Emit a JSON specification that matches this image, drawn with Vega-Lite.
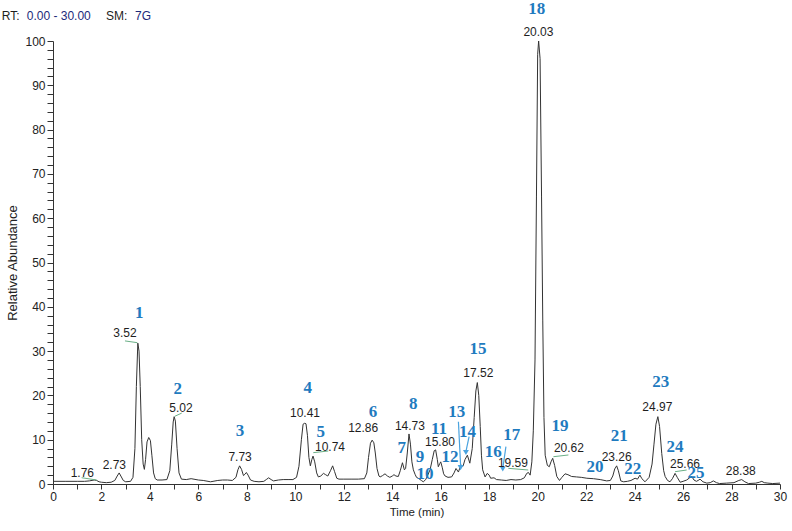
{
  "$schema": "https://vega.github.io/schema/vega-lite/v6.json",
  "width": 727,
  "height": 443,
  "autosize": {"type": "none"},
  "padding": {"left": 53, "top": 41, "right": 12, "bottom": 47},
  "background": "white",
  "config": {"view": {"stroke": null}, "font": "Liberation Sans"},
  "datasets": {
    "trace": [
      {"t":0,"y":0.6},{"t":0.5,"y":0.6},{"t":1.0,"y":0.6},{"t":1.3,"y":0.6},{"t":1.5,"y":0.7},{"t":1.7,"y":0.9},{"t":1.8,"y":0.8},{"t":1.9,"y":0.5},{"t":2.0,"y":0.4},{"t":2.2,"y":0.3},{"t":2.4,"y":0.4},{"t":2.55,"y":0.8},{"t":2.65,"y":1.8},{"t":2.73,"y":2.5},{"t":2.8,"y":1.8},{"t":2.9,"y":0.8},{"t":3.0,"y":0.5},{"t":3.2,"y":0.6},{"t":3.3,"y":1.5},{"t":3.38,"y":8},{"t":3.44,"y":22},{"t":3.5,"y":31.8},{"t":3.55,"y":30},{"t":3.6,"y":22},{"t":3.66,"y":10},{"t":3.72,"y":4.5},{"t":3.77,"y":3.3},{"t":3.82,"y":5.5},{"t":3.88,"y":9.5},{"t":3.95,"y":10.5},{"t":4.02,"y":9.8},{"t":4.08,"y":6.5},{"t":4.15,"y":2.5},{"t":4.22,"y":1.2},{"t":4.3,"y":0.9},{"t":4.5,"y":0.9},{"t":4.7,"y":1.0},{"t":4.82,"y":3},{"t":4.9,"y":9},{"t":4.96,"y":14},{"t":5.0,"y":15.2},{"t":5.05,"y":14.2},{"t":5.12,"y":8},{"t":5.2,"y":2.5},{"t":5.3,"y":1.1},{"t":5.5,"y":1.0},{"t":5.7,"y":1.2},{"t":6.0,"y":0.9},{"t":6.2,"y":0.8},{"t":6.5,"y":0.5},{"t":6.8,"y":0.8},{"t":7.0,"y":0.9},{"t":7.2,"y":0.9},{"t":7.4,"y":0.8},{"t":7.55,"y":1.5},{"t":7.63,"y":3.2},{"t":7.7,"y":4.1},{"t":7.78,"y":3.3},{"t":7.86,"y":1.9},{"t":7.92,"y":2.2},{"t":7.98,"y":2.6},{"t":8.05,"y":2.0},{"t":8.15,"y":0.9},{"t":8.3,"y":0.6},{"t":8.5,"y":0.5},{"t":8.7,"y":0.6},{"t":8.8,"y":1.0},{"t":8.9,"y":1.4},{"t":9.0,"y":1.0},{"t":9.1,"y":0.7},{"t":9.3,"y":0.9},{"t":9.5,"y":1.0},{"t":9.7,"y":1.0},{"t":9.9,"y":1.0},{"t":10.05,"y":1.5},{"t":10.15,"y":4},{"t":10.25,"y":10},{"t":10.32,"y":13.5},{"t":10.38,"y":13.7},{"t":10.44,"y":13.6},{"t":10.5,"y":11},{"t":10.56,"y":6},{"t":10.62,"y":4.1},{"t":10.68,"y":5.5},{"t":10.73,"y":6.3},{"t":10.8,"y":5.0},{"t":10.88,"y":2.5},{"t":10.95,"y":1.6},{"t":11.05,"y":1.8},{"t":11.16,"y":2.4},{"t":11.25,"y":2.1},{"t":11.34,"y":1.8},{"t":11.45,"y":3.0},{"t":11.54,"y":4.1},{"t":11.62,"y":2.8},{"t":11.71,"y":1.3},{"t":11.8,"y":1.1},{"t":12.0,"y":1.1},{"t":12.3,"y":1.1},{"t":12.6,"y":1.1},{"t":12.85,"y":1.2},{"t":12.95,"y":2.5},{"t":13.02,"y":6},{"t":13.1,"y":9.2},{"t":13.17,"y":9.9},{"t":13.24,"y":9.3},{"t":13.3,"y":7},{"t":13.37,"y":3.5},{"t":13.45,"y":1.8},{"t":13.5,"y":1.6},{"t":13.6,"y":1.9},{"t":13.7,"y":2.3},{"t":13.8,"y":1.8},{"t":13.9,"y":1.5},{"t":14.0,"y":1.8},{"t":14.07,"y":2.1},{"t":14.15,"y":1.8},{"t":14.25,"y":1.7},{"t":14.33,"y":3},{"t":14.42,"y":4.8},{"t":14.5,"y":3.2},{"t":14.55,"y":3.5},{"t":14.62,"y":7},{"t":14.69,"y":11.3},{"t":14.75,"y":9},{"t":14.81,"y":5},{"t":14.87,"y":3.2},{"t":14.94,"y":2.2},{"t":15.0,"y":1.5},{"t":15.1,"y":1.2},{"t":15.2,"y":0.8},{"t":15.28,"y":0.5},{"t":15.38,"y":1.0},{"t":15.48,"y":2.2},{"t":15.56,"y":3.2},{"t":15.65,"y":5.5},{"t":15.73,"y":7.5},{"t":15.79,"y":7.7},{"t":15.86,"y":5.5},{"t":15.9,"y":3.9},{"t":15.96,"y":4.6},{"t":16.0,"y":5.0},{"t":16.06,"y":3.8},{"t":16.12,"y":2.3},{"t":16.18,"y":1.8},{"t":16.3,"y":1.5},{"t":16.45,"y":1.6},{"t":16.55,"y":2.5},{"t":16.63,"y":3.5},{"t":16.73,"y":2.7},{"t":16.83,"y":4.3},{"t":16.92,"y":4.0},{"t":17.0,"y":5.5},{"t":17.1,"y":6.5},{"t":17.2,"y":4.7},{"t":17.3,"y":8},{"t":17.38,"y":15},{"t":17.45,"y":21},{"t":17.51,"y":22.9},{"t":17.57,"y":20},{"t":17.63,"y":13},{"t":17.68,"y":6.5},{"t":17.73,"y":3.2},{"t":17.83,"y":1.6},{"t":17.92,"y":2.4},{"t":18.0,"y":2.0},{"t":18.06,"y":1.3},{"t":18.2,"y":1.4},{"t":18.3,"y":1.0},{"t":18.5,"y":0.9},{"t":18.7,"y":0.8},{"t":18.9,"y":1.0},{"t":19.1,"y":0.9},{"t":19.3,"y":1.0},{"t":19.45,"y":1.4},{"t":19.55,"y":2.4},{"t":19.62,"y":2.6},{"t":19.69,"y":2.0},{"t":19.76,"y":5},{"t":19.82,"y":12},{"t":19.89,"y":28},{"t":19.95,"y":65},{"t":20.0,"y":97},{"t":20.04,"y":100},{"t":20.1,"y":96},{"t":20.16,"y":65},{"t":20.21,"y":37},{"t":20.26,"y":15},{"t":20.31,"y":6.5},{"t":20.4,"y":4.2},{"t":20.48,"y":3.9},{"t":20.55,"y":5.0},{"t":20.62,"y":5.8},{"t":20.7,"y":4.2},{"t":20.79,"y":1.7},{"t":20.9,"y":0.8},{"t":21.0,"y":1.5},{"t":21.13,"y":2.3},{"t":21.25,"y":2.1},{"t":21.4,"y":1.7},{"t":21.6,"y":1.6},{"t":21.8,"y":1.5},{"t":22.03,"y":1.3},{"t":22.3,"y":1.2},{"t":22.58,"y":1.0},{"t":22.85,"y":0.7},{"t":23.0,"y":0.8},{"t":23.1,"y":1.8},{"t":23.18,"y":3.4},{"t":23.26,"y":4.1},{"t":23.33,"y":3.0},{"t":23.43,"y":0.7},{"t":23.55,"y":0.5},{"t":23.7,"y":0.6},{"t":23.85,"y":0.8},{"t":24.02,"y":1.3},{"t":24.12,"y":1.1},{"t":24.22,"y":2.0},{"t":24.3,"y":1.2},{"t":24.43,"y":0.5},{"t":24.6,"y":1.5},{"t":24.72,"y":4.5},{"t":24.8,"y":9},{"t":24.88,"y":13.5},{"t":24.96,"y":15.2},{"t":25.03,"y":13},{"t":25.12,"y":6.9},{"t":25.2,"y":3.0},{"t":25.26,"y":1.7},{"t":25.36,"y":0.8},{"t":25.46,"y":0.5},{"t":25.56,"y":1.2},{"t":25.67,"y":2.4},{"t":25.76,"y":1.5},{"t":25.88,"y":0.4},{"t":26.0,"y":0.6},{"t":26.15,"y":0.9},{"t":26.27,"y":1.4},{"t":26.36,"y":1.7},{"t":26.45,"y":0.9},{"t":26.55,"y":0.6},{"t":26.62,"y":0.8},{"t":26.7,"y":1.1},{"t":26.82,"y":0.5},{"t":26.98,"y":0.2},{"t":27.12,"y":0.3},{"t":27.25,"y":0.7},{"t":27.38,"y":0.3},{"t":27.5,"y":0.1},{"t":27.8,"y":0.2},{"t":28.1,"y":0.3},{"t":28.3,"y":0.8},{"t":28.42,"y":1.0},{"t":28.55,"y":0.5},{"t":28.7,"y":0.1},{"t":29.0,"y":0.2},{"t":29.15,"y":0.4},{"t":29.25,"y":0.6},{"t":29.35,"y":0.3},{"t":29.5,"y":0.2},{"t":29.7,"y":0.1},{"t":30.0,"y":0.2}
    ],
    "rt": [
      {"t":1.21,"y":2.55,"label":"1.76"},{"t":2.53,"y":4.29,"label":"2.73"},{"t":2.97,"y":34.0,"label":"3.52"},{"t":5.28,"y":17.1,"label":"5.02"},{"t":7.72,"y":6.16,"label":"7.73"},{"t":10.4,"y":15.96,"label":"10.41"},{"t":11.43,"y":8.42,"label":"10.74"},{"t":12.8,"y":12.57,"label":"12.86"},{"t":14.73,"y":13.09,"label":"14.73"},{"t":15.97,"y":9.41,"label":"15.80"},{"t":17.55,"y":24.99,"label":"17.52"},{"t":18.98,"y":4.74,"label":"19.59"},{"t":20.03,"y":102.1,"label":"20.03"},{"t":21.29,"y":8.06,"label":"20.62"},{"t":23.26,"y":6.16,"label":"23.26"},{"t":24.94,"y":17.31,"label":"24.97"},{"t":26.08,"y":4.45,"label":"25.66"},{"t":28.38,"y":3.0,"label":"28.38"}
    ],
    "peaks": [
      {"t":3.56,"y":38.5,"label":"1"},{"t":5.15,"y":21.4,"label":"2"},{"t":7.72,"y":12.0,"label":"3"},{"t":10.51,"y":21.6,"label":"4"},{"t":11.05,"y":11.8,"label":"5"},{"t":13.21,"y":16.3,"label":"6"},{"t":14.39,"y":8.06,"label":"7"},{"t":14.87,"y":18.06,"label":"8"},{"t":15.14,"y":6.03,"label":"9"},{"t":15.35,"y":2.26,"label":"10"},{"t":15.93,"y":12.35,"label":"11"},{"t":16.38,"y":6.16,"label":"12"},{"t":16.66,"y":16.2,"label":"13"},{"t":17.1,"y":11.8,"label":"14"},{"t":17.54,"y":30.5,"label":"15"},{"t":18.17,"y":7.29,"label":"16"},{"t":18.93,"y":11.06,"label":"17"},{"t":19.96,"y":107.2,"label":"18"},{"t":20.92,"y":13.1,"label":"19"},{"t":22.37,"y":3.77,"label":"20"},{"t":23.37,"y":10.8,"label":"21"},{"t":23.92,"y":3.32,"label":"22"},{"t":25.08,"y":23.1,"label":"23"},{"t":25.67,"y":8.28,"label":"24"},{"t":26.53,"y":2.42,"label":"25"}
    ],
    "leaders": [
      {"t":2.97,"t2":3.48,"y":32.3,"y2":31.9},{"t":5.03,"t2":5.31,"y":15.3,"y2":16.0},{"t":1.18,"t2":1.8,"y":1.42,"y2":0.9},{"t":10.74,"t2":11.36,"y":7.07,"y2":7.45},{"t":18.79,"t2":19.61,"y":3.54,"y2":3.16},{"t":20.65,"t2":21.27,"y":6.16,"y2":6.55},{"t":25.67,"t2":26.15,"y":2.78,"y2":3.16}
    ],
    "arrows": [
      {"t":16.73,"t2":16.82,"y":14.06,"y2":4.2},{"t":17.17,"t2":17.05,"y":10.68,"y2":7.6},{"t":18.69,"t2":18.57,"y":8.42,"y2":3.9}
    ],
    "heads": [
      {"t":16.82,"y":3.7},{"t":17.04,"y":7.1},{"t":18.56,"y":3.4}
    ],
    "hkeys": [
      {"t":-2.117,"y":105.6,"label":"RT:"},{"t":2.187,"y":105.6,"label":"SM:"}
    ],
    "hvals": [
      {"t":-1.085,"y":105.6,"label":"0.00 - 30.00"},{"t":3.384,"y":105.6,"label":"7G"}
    ]
  },
  "layer": [
    {
      "data": {"name": "trace"},
      "mark": {"type": "line", "color": "#333333", "strokeWidth": 1},
      "encoding": {
        "x": {
          "field": "t", "type": "quantitative",
          "scale": {"domain": [0, 30], "nice": false, "zero": false},
          "axis": {
            "title": "Time (min)",
            "tickCount": 60,
            "labelExpr": "datum.value % 2 === 0 ? datum.label : ''",
            "format": "d",
            "grid": false,
            "domainColor": "#333333",
            "tickColor": "#333333",
            "tickSize": 5,
            "labelFont": "Liberation Sans",
            "labelFontSize": 12,
            "labelColor": "#222222",
            "labelPadding": 2,
            "labelOverlap": false,
            "labelFlush": false,
            "titleFont": "Liberation Sans",
            "titleFontSize": 11.5,
            "titleFontWeight": "normal",
            "titleColor": "#222222",
            "titlePadding": 4
          }
        },
        "y": {
          "field": "y", "type": "quantitative",
          "scale": {"domain": [0, 100], "nice": false},
          "axis": {
            "title": "Relative Abundance",
            "tickCount": 50,
            "labelExpr": "datum.value % 10 === 0 ? datum.label : ''",
            "format": "d",
            "tickSize": 6,
            "encode": {"ticks": {"update": {"x2": {"signal": "datum.value % 10 === 0 ? -6 : -3"}}}},
            "grid": false,
            "domainColor": "#333333",
            "tickColor": "#333333",
            "labelFont": "Liberation Sans",
            "labelFontSize": 12,
            "labelColor": "#222222",
            "labelPadding": 2,
            "labelOverlap": false,
            "labelFlush": false,
            "titleFont": "Liberation Sans",
            "titleFontSize": 13,
            "titleFontWeight": "normal",
            "titleColor": "#222222",
            "titlePadding": 5
          }
        }
      }
    },
    {
      "data": {"name": "leaders"},
      "mark": {"type": "rule", "color": "#6aaf86", "strokeWidth": 1},
      "encoding": {
        "x": {"field": "t", "type": "quantitative"},
        "x2": {"field": "t2"},
        "y": {"field": "y", "type": "quantitative"},
        "y2": {"field": "y2"}
      }
    },
    {
      "data": {"name": "arrows"},
      "mark": {"type": "rule", "color": "#4aa3df", "strokeWidth": 1.2},
      "encoding": {
        "x": {"field": "t", "type": "quantitative"},
        "x2": {"field": "t2"},
        "y": {"field": "y", "type": "quantitative"},
        "y2": {"field": "y2"}
      }
    },
    {
      "data": {"name": "heads"},
      "mark": {"type": "point", "shape": "triangle-down", "filled": true, "size": 35, "color": "#4aa3df", "opacity": 1},
      "encoding": {
        "x": {"field": "t", "type": "quantitative"},
        "y": {"field": "y", "type": "quantitative"}
      }
    },
    {
      "data": {"name": "rt"},
      "mark": {"type": "text", "font": "Liberation Sans", "fontSize": 12, "color": "#1e1e1e", "align": "center", "baseline": "middle"},
      "encoding": {
        "x": {"field": "t", "type": "quantitative"},
        "y": {"field": "y", "type": "quantitative"},
        "text": {"field": "label"}
      }
    },
    {
      "data": {"name": "peaks"},
      "mark": {"type": "text", "font": "Liberation Serif", "fontSize": 17, "fontWeight": "bold", "color": "#1f7bbf", "align": "center", "baseline": "middle"},
      "encoding": {
        "x": {"field": "t", "type": "quantitative"},
        "y": {"field": "y", "type": "quantitative"},
        "text": {"field": "label"}
      }
    },
    {
      "data": {"name": "hkeys"},
      "mark": {"type": "text", "font": "Liberation Sans", "fontSize": 12, "color": "#1e1e1e", "align": "left", "baseline": "middle"},
      "encoding": {
        "x": {"field": "t", "type": "quantitative"},
        "y": {"field": "y", "type": "quantitative"},
        "text": {"field": "label"}
      }
    },
    {
      "data": {"name": "hvals"},
      "mark": {"type": "text", "font": "Liberation Sans", "fontSize": 12, "color": "#1c2a7a", "align": "left", "baseline": "middle"},
      "encoding": {
        "x": {"field": "t", "type": "quantitative"},
        "y": {"field": "y", "type": "quantitative"},
        "text": {"field": "label"}
      }
    }
  ]
}
